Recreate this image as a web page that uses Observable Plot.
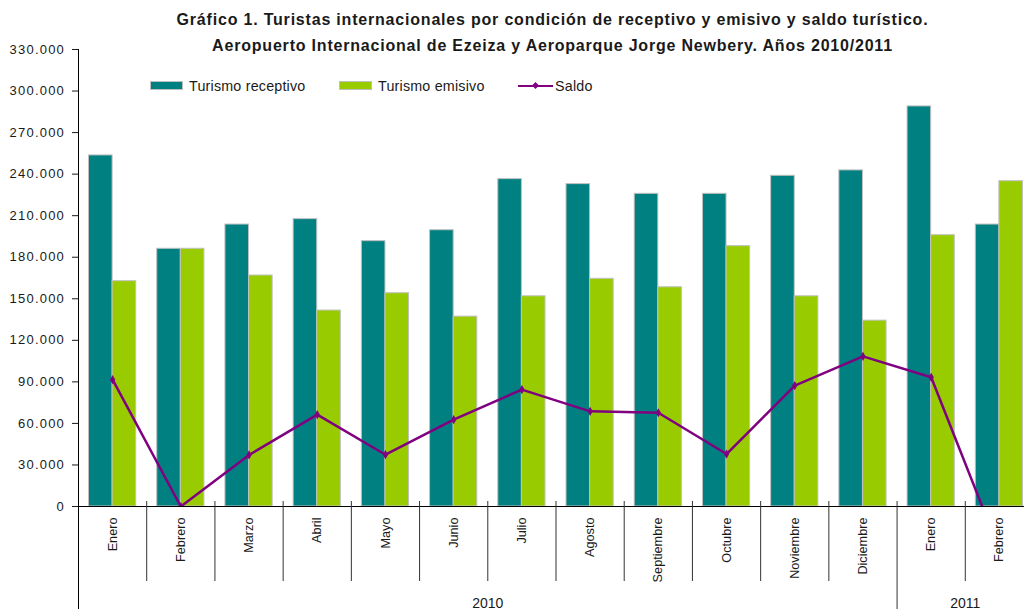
<!DOCTYPE html>
<html>
<head>
<meta charset="utf-8">
<script src="https://cdn.jsdelivr.net/npm/d3@7"></script>
<script src="https://cdn.jsdelivr.net/npm/@observablehq/plot@0.6"></script>
<style>
  html, body { margin: 0; padding: 0; background: #fff; overflow: hidden; width: 1024px; height: 609px; }
  #wrap { position: relative; width: 1024px; height: 609px; overflow: hidden; }
  #chart { position: absolute; left: 0; top: 0; }
  .nf { font-family: "Liberation Sans", Arial, sans-serif; }
  #title { position: absolute; left: 0; top: 6.5px; width: 1105px; text-align: center; font-weight: bold;
           font-size: 16px; letter-spacing: 0.8px; line-height: 26px; color: #1a1a1a; white-space: nowrap; }
  .lg-sw { position: absolute; top: 81px; width: 31px; height: 7px; border: 1px solid #c0c0c0; }
  .lg-tx { position: absolute; top: 76.7px; font-size: 14.3px; line-height: 18px; letter-spacing: 0.2px; color: #1a1a1a; white-space: nowrap; }
  .lg-line { position: absolute; top: 84.5px; left: 518px; width: 35px; height: 2.5px; background: #800080; }
  .lg-dot { position: absolute; top: 83px; left: 532.5px; width: 5px; height: 5px; background: #800080; transform: rotate(45deg); }
  g[aria-label="y-axis tick label"] { letter-spacing: 1.2px; }
</style>
</head>
<body>
<div id="wrap">
  <div id="chart"></div>
  <div id="title" class="nf">Gráfico 1. Turistas internacionales por condición de receptivo y emisivo y saldo turístico.<br>Aeropuerto Internacional de Ezeiza y Aeroparque Jorge Newbery. Años 2010/2011</div>
  <div class="lg-sw" style="left:150px;background:#008080"></div>
  <div class="lg-tx nf" style="left:189px">Turismo receptivo</div>
  <div class="lg-sw" style="left:339px;background:#99cc00"></div>
  <div class="lg-tx nf" style="left:378px">Turismo emisivo</div>
  <div class="lg-line"></div>
  <div class="lg-dot"></div>
  <div class="lg-tx nf" style="left:555px">Saldo</div>
</div>
<script>
// ---- Data ----
const months = ["Enero","Febrero","Marzo","Abril","Mayo","Junio","Julio","Agosto","Septiembre","Octubre","Noviembre","Diciembre","Enero","Febrero"];
const years  = ["2010","2010","2010","2010","2010","2010","2010","2010","2010","2010","2010","2010","2011","2011"];
const receptivo = [253500,186100,203600,207500,191600,199500,236400,232800,225800,225800,238800,242700,288900,203600];
const emisivo   = [162700,186100,166800,141500,154000,137100,151800,164400,158300,188000,151800,134200,195900,234900];
const saldo     = [91600,0,37200,66300,37400,62700,84400,68700,67700,37900,87300,108400,93300,-31300];
const yTicks = [0,30000,60000,90000,120000,150000,180000,210000,240000,270000,300000,330000];
const yearLabels = ["2010","2011"];

// ---- Layout ----
const W = 1033, H = 609, ML = 78, MR = 0, MT = 49, MB = 103;
const keys = months.map((m, i) => m + "|" + years[i]);
const bw = (W - ML - MR) / keys.length;
const data = keys.map((k, i) => ({key: k, month: months[i], year: years[i],
  receptivo: receptivo[i], emisivo: emisivo[i], saldo: saldo[i]}));

const yearFirst = yearLabels.map(y => keys[years.indexOf(y)]);
const monthSeps = keys.filter(k => !yearFirst.includes(k));
const yearSeps = yearFirst.slice(1);
const yearData = yearLabels.map(y => {
  const ks = keys.filter((k, i) => years[i] === y);
  return {year: y, anchor: ks[ks.length / 2 - 1]};
});

const fmt = d3.formatLocale({decimal: ",", thousands: ".", grouping: [3], currency: ["$", ""]}).format(",d");
const FONT = '"Liberation Sans", Arial, sans-serif';

const plot = Plot.plot({
  width: W, height: H,
  marginLeft: ML, marginRight: MR, marginTop: MT, marginBottom: MB,
  style: {maxWidth: "none", fontFamily: FONT, fontSize: "13px", background: "white", color: "#1a1a1a"},
  x: {type: "band", domain: keys, padding: 0, round: false},
  y: {domain: [0, 330000]},
  marks: [
    Plot.barY(data, {x: "key", y: "receptivo", fill: "#008080", stroke: "#c0c0c0", strokeWidth: 1, insetLeft: 10.5, insetRight: bw / 2}),
    Plot.barY(data, {x: "key", y: "emisivo", fill: "#99cc00", stroke: "#c0c0c0", strokeWidth: 1, insetLeft: bw / 2, insetRight: 10.5}),
    Plot.ruleY([0], {stroke: "#000", strokeWidth: 1}),
    Plot.ruleX([keys[0]], {dx: -bw / 2, stroke: "#000", strokeWidth: 1, insetBottom: -MB}),
    Plot.ruleX(monthSeps, {dx: -bw / 2, y1: 0, y2: 0, insetTop: 75, insetBottom: 5, stroke: "#333", strokeWidth: 1}),
    Plot.ruleX(yearSeps, {dx: -bw / 2, y1: 0, y2: 0, insetTop: MB, insetBottom: 5, stroke: "#333", strokeWidth: 1}),
    Plot.line(data, {x: "key", y: "saldo", stroke: "#800080", strokeWidth: 2.5, clip: true}),
    Plot.dot(data, {x: "key", y: "saldo", symbol: "diamond", r: 2.8, fill: "#800080", clip: true}),
    Plot.axisY({ticks: yTicks, tickFormat: fmt, tickSize: 6, tickPadding: 7.5, fontSize: 13, label: null}),
    Plot.axisX({tickFormat: k => k.split("|")[0], tickRotate: -90, tickSize: 0, tickPadding: 11, fontSize: 12.7, label: null}),
    Plot.text(yearData, {x: "anchor", text: "year", dx: bw / 2, frameAnchor: "bottom", lineAnchor: "bottom", dy: MB - 2, fontSize: 14})
  ]
});
document.getElementById("chart").appendChild(plot);
</script>
</body>
</html>
